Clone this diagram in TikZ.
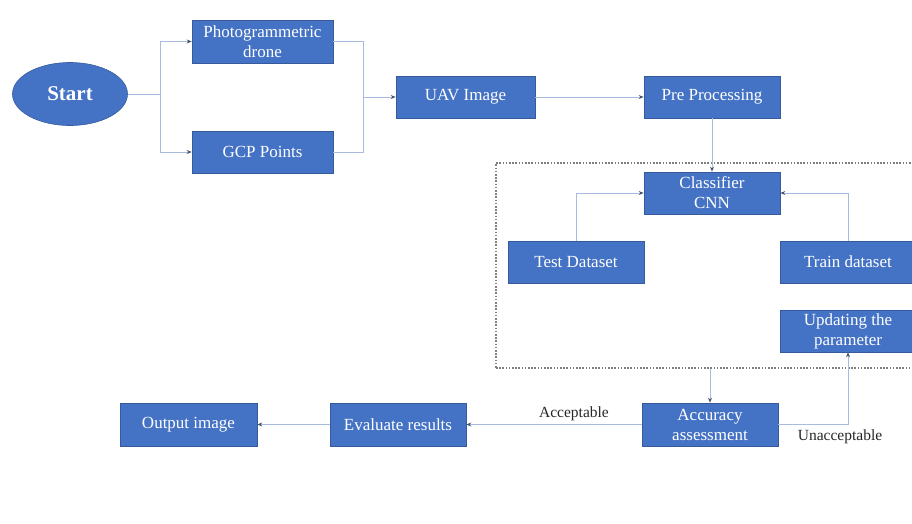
\documentclass[tikz,border=0pt]{standalone}
\usepackage{fontspec}
\setmainfont{Liberation Serif}
\usetikzlibrary{arrows.meta,shapes.geometric}
\definecolor{boxblue}{HTML}{4472C4}
\definecolor{linecol}{HTML}{A9BCE0}
\definecolor{tipcol}{HTML}{44546A}
\tikzset{
  blk/.style={draw=boxblue!80!black, line width=0.6pt, fill=boxblue, text=white, minimum width=136pt, minimum height=42pt, inner sep=1pt, align=center, font=\fontsize{17}{20}\selectfont},
  conn/.style={draw=linecol, line width=1pt},
  arr/.style={conn, -{Stealth[length=5pt,width=4pt,color=tipcol]}},
  lbl/.style={text=black!85, font=\fontsize{15.5}{16}\selectfont}
}
\begin{document}
\begin{tikzpicture}[x=1pt,y=-1pt]
\useasboundingbox (0,0) rectangle (912,523);
\clip (0,0) rectangle (912,523);
\node[ellipse, fill=boxblue, draw=boxblue!80!black, line width=0.6pt, minimum width=115pt, minimum height=63pt, text=white, font=\fontsize{21}{22}\selectfont\bfseries] (start) at (70,94) {Start};
\node[blk, minimum width=141pt, minimum height=43pt] (photo) at (262.5,41.5) {Photogrammetric\\drone};
\node[blk, minimum width=141pt] (gcp) at (262.5,152) {GCP Points};
\node[blk, minimum width=139pt] (uav) at (465.5,97) {UAV Image};
\node[blk] (pre) at (712,97) {Pre Processing};
\node[draw=black!50, line width=1.4pt, dash pattern=on 1.6pt off 1.6pt, minimum width=420pt, minimum height=205pt, inner sep=0pt] (grp) at (706,265.5) {};
\node[blk] (cls) at (712,193) {Classifier\\CNN};
\node[blk] (test) at (576,262) {Test Dataset};
\node[blk] (train) at (848,262) {Train dataset};
\node[blk] (upd) at (848,331) {Updating the\\parameter};
\node[blk, minimum height=43pt] (acc) at (710,424.5) {Accuracy\\assessment};
\node[blk, minimum height=43pt] (eval) at (398,424.5) {Evaluate results};
\node[blk, minimum width=137pt, minimum height=43pt] (out) at (188.5,424.5) {Output image};
\coordinate (sj) at (160,94);
\coordinate (uj) at (363,97);
\draw[conn] (start.east) -- (sj);
\draw[arr] (sj) |- (photo.west);
\draw[arr] (sj) |- (gcp.west);
\draw[conn] (photo.east) -| (uj);
\draw[conn] (gcp.east) -| (uj);
\draw[arr] (uj) -- (uav.west);
\draw[arr] (uav.east) -- (pre.west);
\draw[arr] (pre.south) -- (cls.north);
\draw[arr] (test.north) |- (cls.west);
\draw[arr] (train.north) |- (cls.east);
\draw[arr] (acc.north |- grp.south) -- (acc.north);
\draw[arr] (acc.east) -| (upd.south);
\draw[arr] (acc.west) -- (eval.east);
\draw[arr] (eval.west) -- (out.east);
\node[lbl] (lacc) at (574,414) {Acceptable};
\node[lbl] (lun) at (840,437) {Unacceptable};
\end{tikzpicture}
\end{document}
